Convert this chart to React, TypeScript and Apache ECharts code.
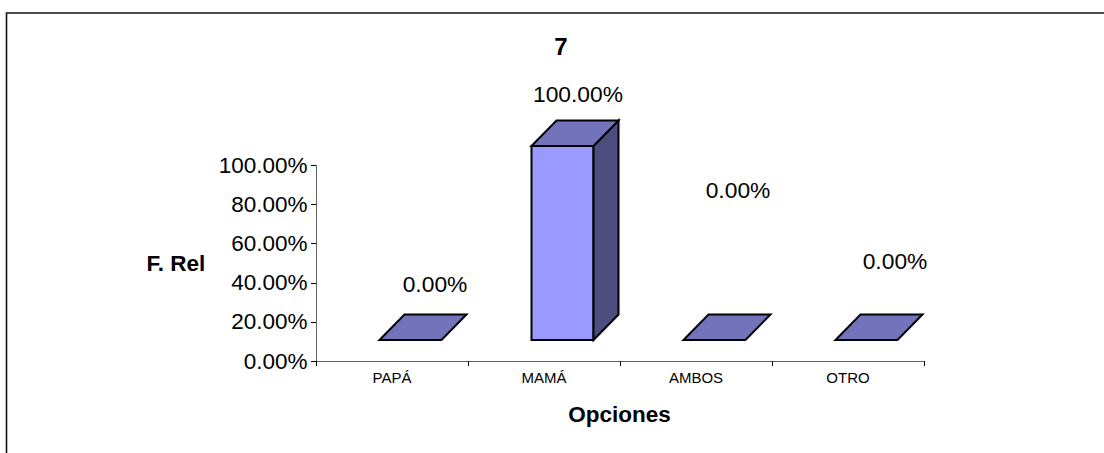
import React, { useEffect, useRef } from "react";
import * as echarts from "echarts";

const categories = ["PAPÁ", "MAMÁ", "AMBOS", "OTRO"];
const values = [0, 100, 0, 0];
const yTicks = [0, 20, 40, 60, 80, 100];
const title = "7";
const xName = "Opciones";
const yName = "F. Rel";

// layout only: hand-placed data labels of the reference, as pixel offsets from the category centre / axis base
const labelOffsets = [[43, -77], [34, -267], [42, -171], [47, -100]];

const FONT = '"Liberation Sans", Arial, sans-serif';
const BAR_W = 62;
const DEPTH_X = 25;
const DEPTH_Y = 25.5;
const SHIFT_X = -12.5;
const SHIFT_Y = -21;
const FRONT_SCALE = 0.992;

const fmt = (v: number) => v.toFixed(2) + "%";

export default function App() {
  const ref = useRef<HTMLDivElement>(null);
  useEffect(() => {
    const chart = echarts.init(ref.current!, undefined, { renderer: "svg" });
    chart.setOption({
      animation: false,
      backgroundColor: "#fff",
      textStyle: { fontFamily: FONT },
      graphic: [
        { type: "polyline", shape: { points: [[6.5, 460], [6.5, 13], [1110, 13]] }, style: { fill: "none", stroke: "#111", lineWidth: 1.6 }, silent: true },
        { type: "text", x: 561, y: 46, style: { text: title, font: `bold 24px ${FONT}`, fill: "#000", textAlign: "center", textVerticalAlign: "middle" } },
        { type: "text", x: 176, y: 263, style: { text: yName, font: `bold 22.5px ${FONT}`, fill: "#000", textAlign: "center", textVerticalAlign: "middle" } },
        { type: "text", x: 619.5, y: 414, style: { text: xName, font: `bold 22.5px ${FONT}`, fill: "#000", textAlign: "center", textVerticalAlign: "middle" } },
      ],
      grid: { left: 316, top: 165.5, width: 608, height: 195.5, containLabel: false },
      xAxis: {
        type: "category",
        data: categories,
        boundaryGap: true,
        axisLine: { lineStyle: { color: "#666", width: 1 } },
        axisTick: { show: true, alignWithLabel: false, length: 5, lineStyle: { color: "#000" } },
        axisLabel: { fontFamily: FONT, fontSize: 15, color: "#000", margin: 9 },
      },
      yAxis: {
        type: "value",
        min: yTicks[0],
        max: yTicks[yTicks.length - 1],
        interval: yTicks[1] - yTicks[0],
        splitLine: { show: false },
        axisLine: { show: true, lineStyle: { color: "#666", width: 1 } },
        axisTick: { show: true, length: 5, lineStyle: { color: "#000" } },
        axisLabel: { fontFamily: FONT, fontSize: 22.5, color: "#000", margin: 8.5, formatter: (v: number) => fmt(v) },
      },
      series: [
        {
          type: "custom",
          data: values.map((v, i) => [i, v]),
          encode: { x: 0, y: 1 },
          renderItem: (params: any, api: any) => {
            const i = api.value(0);
            const v = api.value(1);
            const base = api.coord([i, 0]);
            const top = api.coord([i, v]);
            const x0 = base[0] + SHIFT_X;
            const x1 = x0 + BAR_W;
            const yB = base[1] + SHIFT_Y;
            const yT = yB - (base[1] - top[1]) * FRONT_SCALE;
            const line = { stroke: "#000", lineWidth: 2, lineJoin: "miter" };
            const off = labelOffsets[params.dataIndex];
            const children: any[] = [];
            if (yB - yT > 0.5) {
              children.push({ type: "rect", shape: { x: x0, y: yT, width: BAR_W, height: yB - yT }, style: { fill: "#9999ff", ...line } });
              children.push({ type: "polygon", shape: { points: [[x1, yT], [x1 + DEPTH_X, yT - DEPTH_Y], [x1 + DEPTH_X, yB - DEPTH_Y], [x1, yB]] }, style: { fill: "#4d4d80", ...line } });
            }
            children.push({ type: "polygon", shape: { points: [[x0, yT], [x0 + DEPTH_X, yT - DEPTH_Y], [x1 + DEPTH_X, yT - DEPTH_Y], [x1, yT]] }, style: { fill: "#7373bb", ...line } });
            children.push({
              type: "text",
              x: base[0] + off[0],
              y: base[1] + off[1],
              style: { text: fmt(v), font: `22.8px ${FONT}`, fill: "#000", textAlign: "center", textVerticalAlign: "middle" },
            });
            return { type: "group", children };
          },
        },
      ],
    });
    return () => chart.dispose();
  }, []);
  return <div ref={ref} style={{ position: "absolute", left: 0, top: 0, width: 1104, height: 453 }} />;
}
